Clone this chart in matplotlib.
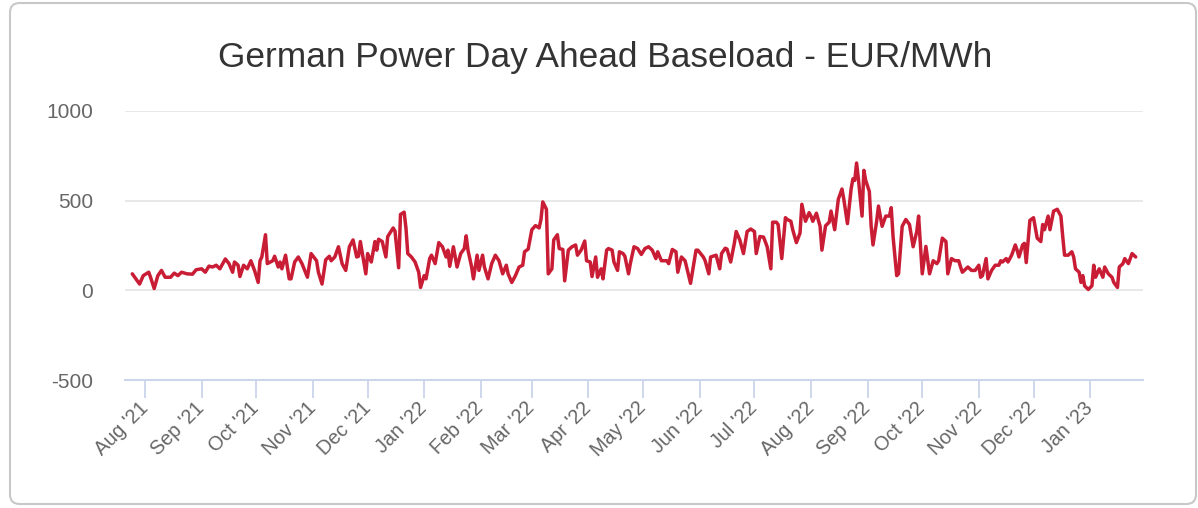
import matplotlib
matplotlib.use("Agg")
import matplotlib.pyplot as plt
from matplotlib.patches import FancyBboxPatch
import pandas as pd

plt.rcParams['font.family'] = ['Liberation Sans', 'DejaVu Sans']

title = "German Power Day Ahead Baseload - EUR/MWh"

dates = [
    "2021-07-25", "2021-07-27", "2021-07-29", "2021-07-31", "2021-08-03", "2021-08-04", "2021-08-06", "2021-08-08",
    "2021-08-10", "2021-08-12", "2021-08-15", "2021-08-17", "2021-08-19", "2021-08-21", "2021-08-24", "2021-08-27",
    "2021-08-29", "2021-09-01", "2021-09-03", "2021-09-05", "2021-09-07", "2021-09-09", "2021-09-11", "2021-09-14",
    "2021-09-16", "2021-09-18", "2021-09-19", "2021-09-21", "2021-09-22", "2021-09-24", "2021-09-26", "2021-09-28",
    "2021-09-30", "2021-10-02", "2021-10-03", "2021-10-04", "2021-10-06", "2021-10-07", "2021-10-10", "2021-10-11",
    "2021-10-13", "2021-10-14", "2021-10-15", "2021-10-17", "2021-10-19", "2021-10-20", "2021-10-22", "2021-10-24",
    "2021-10-26", "2021-10-29", "2021-10-31", "2021-11-03", "2021-11-04", "2021-11-06", "2021-11-08", "2021-11-10",
    "2021-11-11", "2021-11-13", "2021-11-15", "2021-11-17", "2021-11-19", "2021-11-21", "2021-11-23", "2021-11-25",
    "2021-11-26", "2021-11-27", "2021-11-30", "2021-12-01", "2021-12-03", "2021-12-05", "2021-12-06", "2021-12-07",
    "2021-12-09", "2021-12-11", "2021-12-12", "2021-12-15", "2021-12-16", "2021-12-18", "2021-12-19", "2021-12-21",
    "2021-12-22", "2021-12-23", "2021-12-25", "2021-12-27", "2021-12-29", "2021-12-30", "2022-01-01", "2022-01-02",
    "2022-01-04", "2022-01-05", "2022-01-07", "2022-01-09", "2022-01-11", "2022-01-13", "2022-01-14", "2022-01-15",
    "2022-01-17", "2022-01-19", "2022-01-21", "2022-01-23", "2022-01-24", "2022-01-25", "2022-01-27", "2022-01-28",
    "2022-01-30", "2022-01-31", "2022-02-02", "2022-02-03", "2022-02-05", "2022-02-07", "2022-02-09", "2022-02-11",
    "2022-02-13", "2022-02-15", "2022-02-16", "2022-02-18", "2022-02-20", "2022-02-22", "2022-02-24", "2022-02-25",
    "2022-02-27", "2022-03-01", "2022-03-03", "2022-03-05", "2022-03-06", "2022-03-07", "2022-03-09", "2022-03-10",
    "2022-03-12", "2022-03-13", "2022-03-15", "2022-03-16", "2022-03-18", "2022-03-19", "2022-03-21", "2022-03-23",
    "2022-03-25", "2022-03-26", "2022-03-28", "2022-03-30", "2022-03-31", "2022-04-02", "2022-04-03", "2022-04-05",
    "2022-04-06", "2022-04-08", "2022-04-09", "2022-04-11", "2022-04-12", "2022-04-14", "2022-04-15", "2022-04-17",
    "2022-04-18", "2022-04-20", "2022-04-21", "2022-04-23", "2022-04-24", "2022-04-26", "2022-04-28", "2022-04-30",
    "2022-05-02", "2022-05-04", "2022-05-06", "2022-05-08", "2022-05-09", "2022-05-11", "2022-05-14", "2022-05-15",
    "2022-05-17", "2022-05-19", "2022-05-20", "2022-05-22", "2022-05-24", "2022-05-26", "2022-05-27", "2022-05-30",
    "2022-05-31", "2022-06-03", "2022-06-04", "2022-06-06", "2022-06-07", "2022-06-10", "2022-06-12", "2022-06-13",
    "2022-06-15", "2022-06-16", "2022-06-18", "2022-06-20", "2022-06-21", "2022-06-23", "2022-06-25", "2022-06-27",
    "2022-06-29", "2022-07-01", "2022-07-02", "2022-07-04", "2022-07-06", "2022-07-08", "2022-07-10", "2022-07-11",
    "2022-07-13", "2022-07-14", "2022-07-16", "2022-07-18", "2022-07-19", "2022-07-21", "2022-07-22", "2022-07-24",
    "2022-07-26", "2022-07-27", "2022-07-29", "2022-07-31", "2022-08-01", "2022-08-02", "2022-08-04", "2022-08-06",
    "2022-08-07", "2022-08-09", "2022-08-11", "2022-08-12", "2022-08-14", "2022-08-16", "2022-08-18", "2022-08-19",
    "2022-08-21", "2022-08-23", "2022-08-24", "2022-08-25", "2022-08-26", "2022-08-27", "2022-08-29", "2022-08-30",
    "2022-08-31", "2022-09-02", "2022-09-03", "2022-09-04", "2022-09-06", "2022-09-07", "2022-09-09", "2022-09-11",
    "2022-09-13", "2022-09-14", "2022-09-15", "2022-09-17", "2022-09-18", "2022-09-20", "2022-09-22", "2022-09-24",
    "2022-09-26", "2022-09-28", "2022-09-29", "2022-10-01", "2022-10-03", "2022-10-05", "2022-10-07", "2022-10-09",
    "2022-10-10", "2022-10-12", "2022-10-14", "2022-10-15", "2022-10-17", "2022-10-19", "2022-10-21", "2022-10-22",
    "2022-10-23", "2022-10-26", "2022-10-28", "2022-10-30", "2022-11-01", "2022-11-02", "2022-11-03", "2022-11-05",
    "2022-11-06", "2022-11-08", "2022-11-10", "2022-11-12", "2022-11-13", "2022-11-14", "2022-11-16", "2022-11-17",
    "2022-11-19", "2022-11-21", "2022-11-22", "2022-11-23", "2022-11-25", "2022-11-26", "2022-11-27", "2022-11-29",
    "2022-12-01", "2022-12-03", "2022-12-05", "2022-12-06", "2022-12-07", "2022-12-09", "2022-12-10", "2022-12-12",
    "2022-12-14", "2022-12-16", "2022-12-17", "2022-12-18", "2022-12-20", "2022-12-22", "2022-12-23", "2022-12-24",
    "2022-12-26", "2022-12-27", "2022-12-28", "2022-12-29", "2022-12-31", "2023-01-02", "2023-01-03", "2023-01-04",
    "2023-01-06", "2023-01-08", "2023-01-09", "2023-01-11", "2023-01-13", "2023-01-14", "2023-01-16", "2023-01-17",
    "2023-01-19", "2023-01-20", "2023-01-22", "2023-01-24", "2023-01-26",
]

prices = [
    92, 64, 35, 82, 101, 73, 10, 82,
    111, 73, 73, 96, 82, 101, 92, 90,
    115, 120, 101, 135, 130, 140, 120, 175,
    149, 101, 158, 140, 77, 140, 120, 165,
    111, 44, 165, 186, 310, 149, 165, 190,
    130, 158, 120, 196, 64, 64, 158, 186,
    149, 73, 205, 165, 101, 35, 170, 190,
    165, 186, 243, 149, 111, 243, 281, 186,
    190, 272, 92, 205, 158, 272, 224, 285,
    272, 186, 300, 348, 330, 126, 423, 436,
    348, 205, 186, 158, 101, 16, 82, 64,
    177, 196, 149, 266, 243, 186, 224, 134,
    243, 130, 205, 233, 304, 224, 130, 64,
    196, 111, 196, 130, 64, 149, 196, 165,
    92, 140, 92, 44, 82, 130, 140, 215,
    230, 338, 361, 348, 395, 493, 452, 92,
    120, 281, 310, 233, 228, 53, 224, 243,
    253, 196, 224, 275, 165, 158, 77, 186,
    73, 120, 64, 224, 233, 224, 158, 111,
    215, 205, 190, 92, 150, 243, 233, 200,
    233, 243, 224, 177, 215, 165, 165, 149,
    228, 215, 101, 186, 165, 82, 39, 224,
    224, 186, 165, 92, 186, 196, 120, 205,
    235, 230, 158, 262, 328, 281, 205, 328,
    342, 328, 205, 300, 297, 243, 120, 380,
    380, 367, 177, 405, 395, 385, 338, 266,
    319, 480, 385, 433, 414, 385, 430, 357,
    224, 360, 380, 442, 338, 508, 565, 508,
    372, 565, 622, 613, 710, 622, 414, 669,
    613, 551, 357, 253, 385, 470, 357, 414,
    414, 461, 300, 82, 92, 357, 395, 367,
    243, 328, 414, 92, 245, 92, 165, 149,
    165, 291, 272, 92, 177, 165, 165, 130,
    101, 130, 111, 111, 140, 73, 82, 177,
    64, 111, 140, 140, 165, 158, 177, 158,
    196, 253, 224, 186, 253, 262, 155, 390,
    405, 291, 272, 367, 338, 414, 338, 442,
    452, 414, 300, 196, 196, 215, 186, 120,
    101, 44, 82, 25, 5, 25, 140, 73,
    120, 73, 130, 92, 73, 44, 16, 130,
    149, 177, 149, 205, 186,
]

y_ticks = [-500, 0, 500, 1000]
month_ticks = pd.date_range("2021-08-01", "2023-01-01", freq="MS")
month_labels = [d.strftime("%b '%y") for d in month_ticks]

W, H = 1198, 508
fig = plt.figure(figsize=(W / 100, H / 100), dpi=100)
fig.patch.set_facecolor("white")

# outer rounded border
border = FancyBboxPatch((10 / W, 4 / H), 1186 / W, 501 / H,
                        boxstyle="round,pad=0,rounding_size=0.008",
                        mutation_aspect=W / H,
                        transform=fig.transFigure, fill=False,
                        ec="#c8c8c8", lw=1.5)
fig.patches.append(border)

ax = fig.add_axes([125 / W, (H - 380) / H, (1143 - 125) / W, (380 - 111) / H])
ax.plot(pd.to_datetime(dates), prices, color="#c91d36", lw=2.5,
        solid_joinstyle="round", solid_capstyle="round", zorder=3)

ax.set_ylim(-500, 1000)
ax.set_xlim(pd.Timestamp("2021-07-21"), pd.Timestamp("2023-01-30"))
ax.set_yticks(y_ticks)
ax.set_yticklabels([str(v) for v in y_ticks])
ax.set_xticks(month_ticks)
ax.set_xticklabels(month_labels)

ax.yaxis.grid(True, color="#e6e6e6", lw=1.3, zorder=0)
ax.set_axisbelow(True)
for s in ["top", "left", "right"]:
    ax.spines[s].set_visible(False)
ax.spines["bottom"].set_color("#ccd6eb")
ax.spines["bottom"].set_linewidth(1.5)
ax.spines["bottom"].set_zorder(2)

ax.tick_params(axis="y", length=0, pad=23, labelsize=15, labelcolor="#666666")
ax.tick_params(axis="x", length=13, width=1.3, color="#ccd6eb", pad=5,
               labelsize=14.2, labelcolor="#666666")
for lab in ax.get_xticklabels():
    lab.set_rotation(45)
    lab.set_ha("right")
    lab.set_va("center")
    lab.set_rotation_mode("anchor")

fig.text(605 / W, 1 - 57 / H, title, ha="center", va="center",
         fontsize=25.4, color="#333333")

fig.savefig("out.png", dpi=100, facecolor="white")
